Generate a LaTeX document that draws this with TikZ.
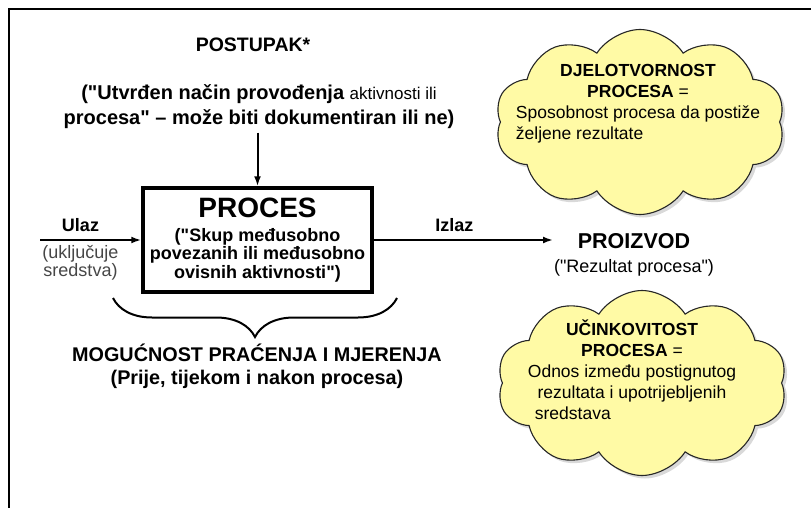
\documentclass[tikz,border=0pt]{standalone}
\usepackage{fontspec}
\setmainfont{Liberation Sans}
\usepackage{array}
\definecolor{oblak_fill}{RGB}{255, 250, 165}
\definecolor{opis_gray}{RGB}{70, 70, 70}
\usetikzlibrary{arrows.meta, positioning, shapes.symbols, decorations.pathreplacing, shadows}
\newcommand{\usred}[1]{\multicolumn{1}{@{}c@{}}{#1}}
\newcommand{\nv}{\textquotedbl}

\begin{document}
\begin{tikzpicture}[x=1pt, y=-1pt,
      naslov/.style={font=\fontsize{19.5}{24}\selectfont\bfseries},
      opis/.style={font=\fontsize{20}{25}\selectfont\bfseries, align=center},
      kutija/.style={rectangle, draw, line width=3.5pt, minimum width=229pt,
                     minimum height=104pt, align=center,
                     font=\fontsize{18}{18.5}\selectfont\bfseries},
      oznaka/.style={font=\fontsize{18}{18}\selectfont\bfseries},
      sitno/.style={font=\fontsize{18}{18}\selectfont, align=center},
      oblak/.style={cloud, cloud puffs=10, cloud puff arc=115, cloud ignores aspect,
                    draw=black!85, line width=1.1pt, fill=oblak_fill,
                    minimum width=290pt, minimum height=185pt,
                    drop shadow={opacity=0.3, shadow xshift=3pt, shadow yshift=-3pt}},
      oblaktekst/.style={font=\fontsize{17.5}{21}\selectfont, inner sep=0pt},
      arr/.style={-{Latex[length=10pt, width=7pt]}, line width=2pt},
      zagrada/.style={decorate, decoration={brace, mirror, amplitude=39pt}, line width=2pt},
    ]
      \useasboundingbox (0,0) rectangle (811,508);
      \draw[line width=1.5pt] (811,9) -- (9,9) -- (9,508);

      \node[naslov] (postupak) at (253,45) {POSTUPAK*};
      \node[opis]   (postupakopis) at (259,107)
            {(\nv Utvrđen način provođenja {\mdseries\fontsize{17}{25}\selectfont aktivnosti ili}\\
             procesa\nv{} – može biti dokumentiran ili ne)};

      \node[kutija] (proces) at (257.5,240)
            {{\fontsize{28}{28}\selectfont PROCES}\\[5pt]
             (\nv Skup međusobno\\povezanih ili međusobno\\ovisnih aktivnosti\nv)};

      \coordinate (ulazpoc)   at (40,240);
      \coordinate (izlazkraj) at (553,240);
      \coordinate (zagradaL)  at (113,298);
      \coordinate (zagradaR)  at (397,298);

      \node[font=\fontsize{21.5}{24}\selectfont\bfseries] (proizvod) at (634,241) {PROIZVOD};
      \node[sitno] (proizvodopis) at (634,268) {(\nv Rezultat procesa\nv)};

      \draw[arr] (postupakopis.south -| proces.north) -- (proces.north);
      \draw[arr] (ulazpoc) -- node[oznaka, above=4pt, pos=0.4] (ulaz) {Ulaz}
            node[sitno, below=1pt, pos=0.4, text=opis_gray] (ulazopis) {(uključuje\\sredstva)} (proces);
      \draw[arr] (proces) -- node[oznaka, above=4pt, pos=0.45] (izlaz) {Izlaz} (izlazkraj);
      \draw[zagrada] (zagradaL) -- (zagradaR);

      \node[opis, font=\fontsize{19.8}{23}\selectfont\bfseries] (pracenje) at (257,366)
            {MOGUĆNOST PRAĆENJA I MJERENJA\\(Prije, tijekom i nakon procesa)};

      \node[oblak] (oblak1) at (640,122) {};
      \node[oblaktekst] (djelotvornost) at (638,104)
            {\begin{tabular}{@{}l@{}}
              \usred{\textbf{DJELOTVORNOST}}\\
              \usred{\textbf{PROCESA} =}\\
              Sposobnost procesa da postiže\\
              željene rezultate
             \end{tabular}};

      \node[oblak] (oblak2) at (642,383) {};
      \node[oblaktekst] (ucinkovitost) at (632,373)
            {\begin{tabular}{@{}l@{}}
              \usred{\textbf{UČINKOVITOST}}\\
              \usred{\textbf{PROCESA} =}\\
              \usred{Odnos između postignutog}\\
              \usred{rezultata i upotrijebljenih}\\
              \hspace{7pt}sredstava
             \end{tabular}};
    \end{tikzpicture}
\end{document}
